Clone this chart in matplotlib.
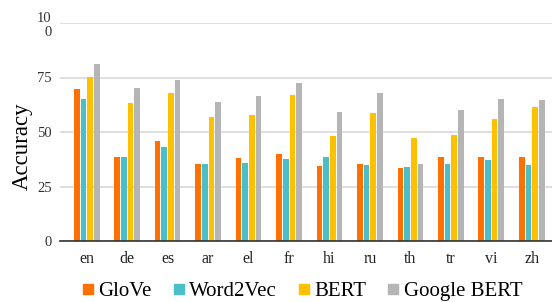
import numpy as np
import matplotlib.pyplot as plt
from matplotlib.lines import Line2D

# Data
languages = ["en", "de", "es", "ar", "el", "fr", "hi", "ru", "th", "tr", "vi", "zh"]
glove = [69.6, 38.5, 46.0, 35.2, 38.2, 39.8, 34.3, 35.3, 33.3, 38.4, 38.5, 38.4]
word2vec = [65.0, 38.5, 43.3, 35.2, 35.8, 37.6, 38.4, 34.9, 33.9, 35.3, 37.3, 34.7]
bert = [75.2, 63.4, 67.7, 56.7, 57.6, 66.8, 48.3, 58.7, 47.1, 48.6, 56.1, 61.5]
google_bert = [81.2, 70.0, 73.9, 63.6, 66.4, 72.5, 59.2, 67.9, 35.3, 60.1, 65.1, 64.5]

series_names = ["GloVe", "Word2Vec", "BERT", "Google BERT"]
colors = ["#FF7000", "#4BBFC8", "#FFC000", "#B5B5B5"]

plt.rcParams['font.family'] = ['Liberation Serif', 'DejaVu Serif']

fig = plt.figure(figsize=(5.52, 3.02), dpi=100)
ax = fig.add_axes([60 / 552, 61 / 302, 492 / 552, 218 / 302])

x = np.arange(len(languages))
width = 0.14
step = 0.165
for i, (vals, col) in enumerate(zip([glove, word2vec, bert, google_bert], colors)):
    ax.bar(x + (i - 1.5) * step, vals, width, color=col, zorder=3)

ax.set_xlim(-0.66, 11.5)
ax.set_ylim(0, 100)
ax.set_yticks([0, 25, 50, 75, 100])
ax.set_yticklabels(["0", "25", "50", "75", "10\n0"], fontsize=10.5, color="#333333")
ax.set_xticks(x)
ax.set_xticklabels(languages, fontsize=11.5, color="#222222")
ax.tick_params(length=0)
ax.tick_params(axis="y", pad=6)
ax.tick_params(axis="x", pad=7)
ax.yaxis.grid(True, color="#D9D9D9", linewidth=1.2, zorder=0)
for s in ["top", "right", "left"]:
    ax.spines[s].set_visible(False)
ax.spines["bottom"].set_color("#333333")
ax.spines["bottom"].set_linewidth(1.2)
ax.spines["bottom"].set_zorder(4)

ax.set_ylabel("Accuracy", fontsize=16.5)
ax.yaxis.set_label_coords(-0.055, 0.436)

handles = [Line2D([0], [0], marker="s", linestyle="", markersize=7,
                  markerfacecolor=c, markeredgecolor=c) for c in colors]
fig.legend(handles, series_names, loc="center", bbox_to_anchor=(0.545, 0.035),
           ncol=4, frameon=False, handletextpad=0.1,
           columnspacing=0.9, handlelength=0.8,
           prop={"family": "Liberation Serif", "size": 15})

fig.savefig("out.png", dpi=100)
